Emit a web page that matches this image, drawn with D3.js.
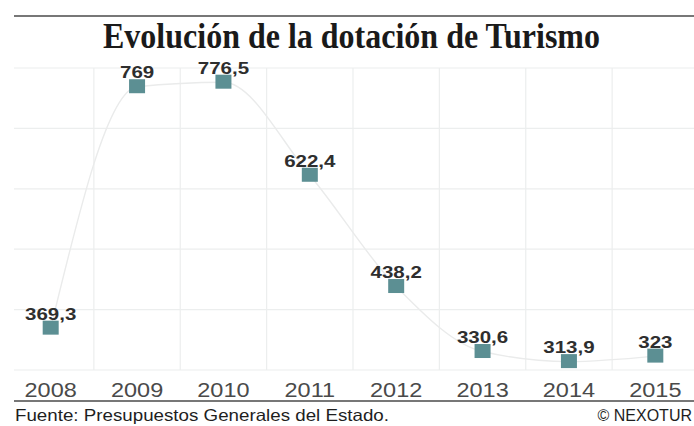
<!DOCTYPE html>
<html>
<head>
<meta charset="utf-8">
<script src="https://cdn.jsdelivr.net/npm/d3@7"></script>
<style>
  html, body { margin: 0; padding: 0; background: #fff; }
  svg { display: block; }
</style>
</head>
<body>
<script>
// Presupuesto de Turismo por año (millones de euros)
const years = ["2008", "2009", "2010", "2011", "2012", "2013", "2014", "2015"];
const values = [369.3, 769, 776.5, 622.4, 438.2, 330.6, 313.9, 323];
const valueLabels = ["369,3", "769", "776,5", "622,4", "438,2", "330,6", "313,9", "323"];
const gridValues = [300, 400, 500, 600, 700, 800];

const title = "Evolución de la dotación de Turismo";
const source = "Fuente: Presupuestos Generales del Estado.";
const credit = "© NEXOTUR";

const W = 694, H = 426;
const svg = d3.select("body").append("svg").attr("width", W).attr("height", H);

const x = d3.scaleBand().domain(years).range([7.5, 698.5]);
const y = d3.scaleLinear().domain([300, 800]).range([370, 68]);

// top rule and title
svg.append("line").attr("x1", 14).attr("x2", W).attr("y1", 16).attr("y2", 16)
  .attr("stroke", "#4a4a4a").attr("stroke-width", 1.6);
svg.append("text")
  .attr("x", 103).attr("y", 48)
  .attr("textLength", 497).attr("lengthAdjust", "spacingAndGlyphs")
  .attr("font-family", "'Liberation Serif', 'Times New Roman', serif")
  .attr("font-weight", "bold").attr("font-size", 36).attr("fill", "#1a1a1a")
  .text(title);

// grid
const grid = svg.append("g").attr("stroke", "#eceeee").attr("stroke-width", 1.2);
grid.selectAll("line.h").data(gridValues).join("line").attr("class", "h")
  .attr("x1", 14).attr("x2", W).attr("y1", d => y(d)).attr("y2", d => y(d));
grid.selectAll("line.v").data(years.slice(1)).join("line").attr("class", "v")
  .attr("x1", d => x(d)).attr("x2", d => x(d)).attr("y1", y(800)).attr("y2", y(300));

// connecting line
const pts = years.map((yr, i) => [x(yr) + x.bandwidth() / 2, y(values[i])]);
svg.append("path")
  .attr("d", d3.line().curve(d3.curveMonotoneX)(pts))
  .attr("fill", "none").attr("stroke", "#eaebeb").attr("stroke-width", 1.4);

// markers
const ms = 16;
svg.selectAll("rect.m").data(values).join("rect").attr("class", "m")
  .attr("x", (d, i) => x(years[i]) + x.bandwidth() / 2 - ms / 2)
  .attr("y", d => y(d) - ms / 2 + 0.5)
  .attr("width", ms).attr("height", ms - 2)
  .attr("fill", "#5c8f93");

// value labels
svg.selectAll("text.v").data(values).join("text").attr("class", "v")
  .attr("transform", (d, i) => `translate(${x(years[i]) + x.bandwidth() / 2},${y(d) - 8.5}) scale(1.28,1)`)
  .attr("text-anchor", "middle")
  .attr("font-family", "'Liberation Sans', Arial, sans-serif")
  .attr("font-weight", "bold").attr("font-size", 16).attr("fill", "#2e2e2e")
  .text((d, i) => valueLabels[i]);

// x axis
const xAxis = d3.axisBottom(x).tickSize(0).tickPadding(0);
const ax = svg.append("g").attr("transform", "translate(0,397)").call(xAxis);
ax.select(".domain").remove();
ax.selectAll("text")
  .attr("dy", 0).attr("y", 0)
  .attr("transform", "scale(1.12,1)")
  .attr("font-family", "'Liberation Sans', Arial, sans-serif")
  .attr("font-size", 21).attr("fill", "#4a4a4a");
ax.selectAll(".tick").each(function (d) {
  const cx = x(d) + x.bandwidth() / 2;
  d3.select(this).attr("transform", `translate(${cx},0)`);
});

// bottom rule
svg.append("line").attr("x1", 14).attr("x2", W).attr("y1", 401).attr("y2", 401)
  .attr("stroke", "#4a4a4a").attr("stroke-width", 1.4);

// footer
svg.append("text").attr("x", 15).attr("y", 421)
  .attr("textLength", 374).attr("lengthAdjust", "spacingAndGlyphs")
  .attr("font-family", "'Liberation Sans', Arial, sans-serif")
  .attr("font-size", 16.5).attr("fill", "#1e1e1e").text(source);
svg.append("text").attr("x", 692).attr("y", 421).attr("text-anchor", "end")
  .attr("font-family", "'Liberation Sans', Arial, sans-serif")
  .attr("font-size", 16).attr("fill", "#1e1e1e").text(credit);
</script>
</body>
</html>
